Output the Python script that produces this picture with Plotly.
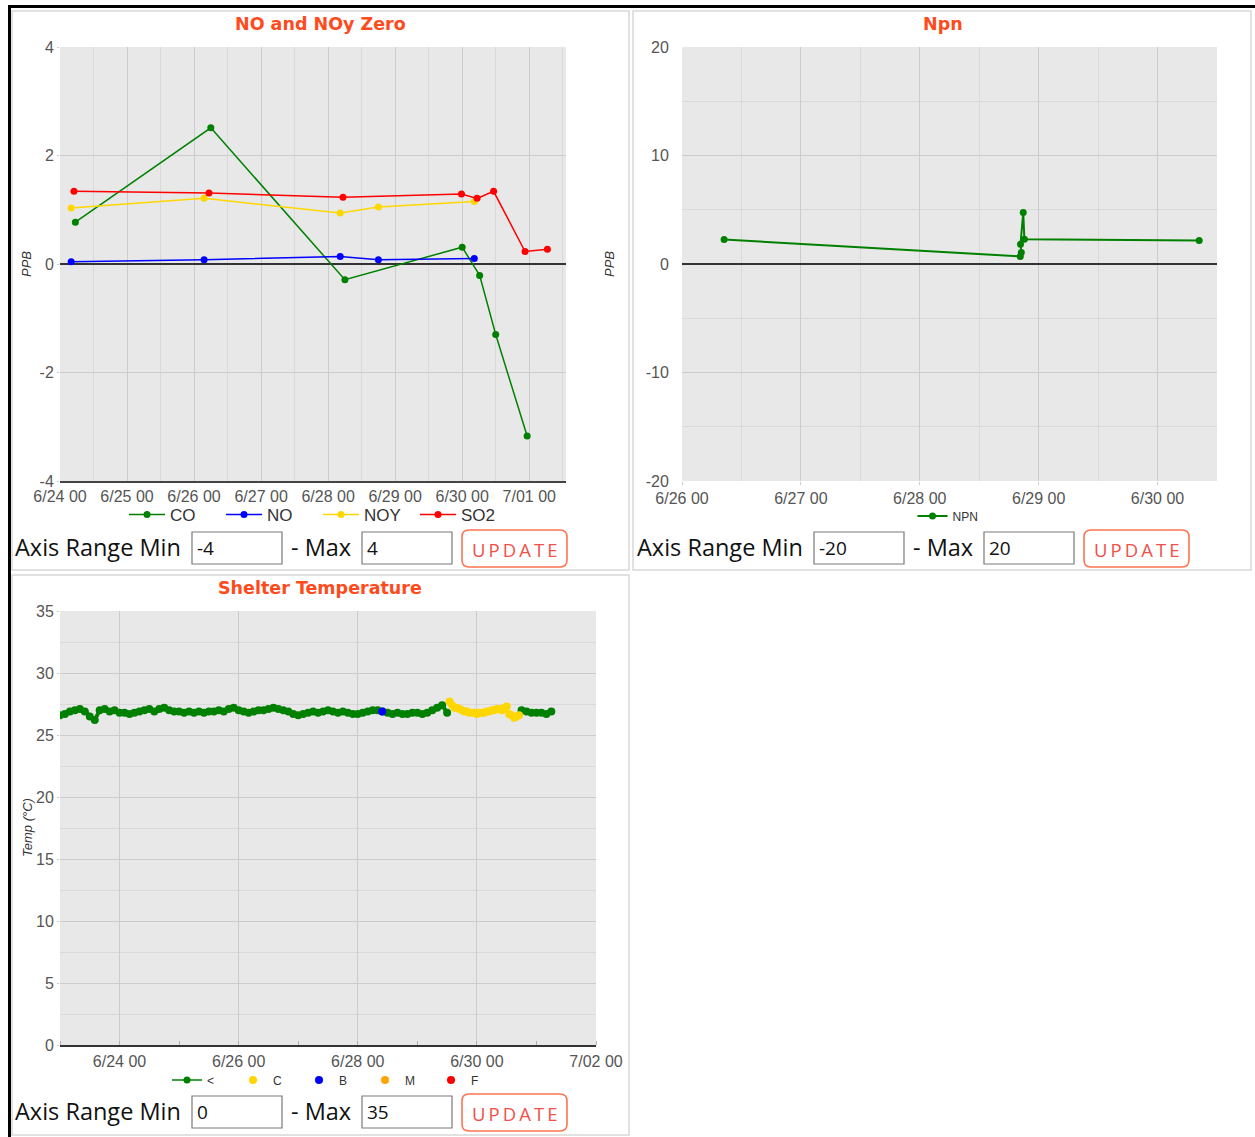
import pandas as pd
import plotly.graph_objects as go

W, H = 1255, 1137


def px(x):
    return x / W


def py(y):
    return 1 - y / H


# ---- NO and NOy Zero ----
co_time = ["2023-06-24 05:30", "2023-06-26 06:00", "2023-06-28 06:00", "2023-06-30 00:00",
           "2023-06-30 06:15", "2023-06-30 12:00", "2023-06-30 23:15"]
co_vals = [0.77, 2.51, -0.29, 0.31, -0.21, -1.30, -3.17]

no_time = ["2023-06-24 04:00", "2023-06-26 03:36", "2023-06-28 04:20", "2023-06-28 18:00",
           "2023-06-30 04:20"]
no_vals = [0.04, 0.08, 0.14, 0.08, 0.10]
noy_vals = [1.03, 1.21, 0.94, 1.05, 1.15]

so2_time = ["2023-06-24 05:00", "2023-06-26 05:20", "2023-06-28 05:20", "2023-06-29 23:45",
            "2023-06-30 05:20", "2023-06-30 11:15", "2023-06-30 22:30", "2023-07-01 06:30"]
so2_vals = [1.34, 1.31, 1.23, 1.29, 1.21, 1.34, 0.23, 0.27]

ppb_ticks = [-4, -2, 0, 2, 4]
ppb_labels = ["-4", "-2", "0", "2", "4"]

# ---- Npn ----
npn_time = ["2023-06-26 08:30", "2023-06-28 20:17", "2023-06-28 20:30", "2023-06-28 20:20",
            "2023-06-28 20:53", "2023-06-28 21:07", "2023-06-30 08:24"]
npn_vals = [2.26, 0.70, 1.05, 1.83, 4.74, 2.29, 2.17]

npn_ticks = [-20, -10, 0, 10, 20]
npn_labels = ["-20", "-10", "0", "10", "20"]

# ---- Shelter Temperature ----
# "<" flag, every 2 hours
temp_green_a = [
    26.6, 26.7, 26.9, 27.0, 27.1, 26.9, 26.5, 26.2, 27.0, 27.1, 26.9, 27.0,
    26.8, 26.8, 26.7, 26.8, 26.9, 27.0, 27.1, 26.9, 27.1, 27.2, 27.0, 26.9,
    26.9, 26.8, 26.9, 26.8, 26.9, 26.8, 26.9, 26.9, 27.0, 26.9, 27.1, 27.2,
    27.0, 26.9, 26.8, 26.9, 27.0, 27.0, 27.1, 27.2, 27.1, 27.0, 26.9, 26.7,
    26.6, 26.7, 26.8, 26.9, 26.8, 26.9, 27.0, 26.9, 26.8, 26.9, 26.8, 26.7,
    26.7, 26.8, 26.9, 27.0, 27.0, 26.9, 26.8, 26.7, 26.8, 26.7, 26.7, 26.8,
    26.8, 26.7, 26.8, 27.0, 27.2, 27.4, 26.8,
]
temp_green_b = [27.0, 26.9, 26.8, 26.8, 26.8, 26.7, 26.9]
# "C" flag, hourly
temp_yellow = [27.7, 27.4, 27.2, 27.2, 27.1, 27.0, 26.9, 26.9, 26.8, 26.8, 26.8, 26.7, 26.8, 26.8,
               26.8, 26.9, 26.9, 27.0, 27.0, 27.1, 27.1, 27.0, 27.2, 27.3, 26.7, 26.6, 26.4, 26.5, 26.6]
# "B" flag
temp_blue_time = ["2023-06-28 09:50"]
temp_blue = [26.9]

t_green_a = list(pd.date_range("2023-06-23 00:00", periods=len(temp_green_a), freq="2h"))
t_green_b = list(pd.date_range("2023-06-30 18:00", periods=len(temp_green_b), freq="2h"))
t_yellow = list(pd.date_range("2023-06-29 13:00", periods=len(temp_yellow), freq="1h"))

GREEN = "#008000"
BLUE = "#0000ff"
YELLOW = "#ffd700"
RED = "#ff0000"
ORANGE = "#ffa500"
TITLE_C = "#ff4a1c"
BTN_C = "#ff7350"
GRID = "#cccccc"
MINOR = "#d9d9d9"
TICK_FONT = dict(family="Liberation Sans, Arial", size=16, color="#555555")

fig = go.Figure()


def line_trace(x, y, name, color, xa, ya, legend, size=7, width=1.5, mode="lines+markers",
               showlegend=True):
    fig.add_trace(go.Scatter(
        x=x, y=y, name=name, mode=mode, xaxis=xa, yaxis=ya, legend=legend,
        line=dict(color=color, width=width),
        marker=dict(color=color, size=size),
        connectgaps=False, showlegend=showlegend,
    ))


line_trace(co_time, co_vals, "CO", GREEN, "x", "y", "legend")
line_trace(no_time, no_vals, "NO", BLUE, "x", "y", "legend")
line_trace(no_time, noy_vals, "NOY", YELLOW, "x", "y", "legend")
line_trace(so2_time, so2_vals, "SO2", RED, "x", "y", "legend")

line_trace(npn_time, npn_vals, "NPN", GREEN, "x2", "y3", "legend2", size=7, width=2)

# thick line keeps the dense series looking like one band; the legend entry uses a thin one
line_trace(t_green_a + [None] + t_green_b, temp_green_a + [None] + temp_green_b,
           "<", GREEN, "x3", "y4", "legend3", size=8, width=4, showlegend=False)
line_trace([None], [None], "<", GREEN, "x3", "y4", "legend3", size=7, width=1.5)
line_trace(t_yellow, temp_yellow, "C", YELLOW, "x3", "y4", "legend3", size=8, mode="markers")
line_trace(temp_blue_time, temp_blue, "B", BLUE, "x3", "y4", "legend3", size=8, mode="markers")
line_trace([None], [None], "M", ORANGE, "x3", "y4", "legend3", size=8, mode="markers")
line_trace([None], [None], "F", RED, "x3", "y4", "legend3", size=8, mode="markers")

DAY = 86400000

common_x = dict(type="date", tickformat="%-m/%d %H", showgrid=True, gridcolor=GRID, automargin=False,
                ticks="outside", ticklen=3, tickcolor=GRID, tickfont=TICK_FONT, zeroline=False)
common_y = dict(showgrid=True, gridcolor=GRID, ticks="outside", ticklen=2, tickcolor=GRID, automargin=False,
                tickfont=TICK_FONT, zeroline=True, zerolinecolor="#333333", zerolinewidth=1.5)

fig.update_layout(
    width=W, height=H,
    margin=dict(l=0, r=0, t=0, b=0, pad=0, autoexpand=False),
    paper_bgcolor="white", plot_bgcolor="#e8e8e8",
    xaxis=dict(common_x, domain=[px(60), px(566)], anchor="y",
               range=["2023-06-24 00:00", "2023-07-01 13:10"], tick0="2023-06-24", dtick=DAY,
               ticks="", ticklen=0,
               minor=dict(dtick=DAY / 2, showgrid=True, gridcolor=MINOR),
               showline=True, linecolor="#444444", linewidth=2),
    yaxis=dict(common_y, domain=[py(481), py(47)], anchor="x", range=[-4, 4],
               tickvals=ppb_ticks, ticktext=ppb_labels),
    yaxis2=dict(overlaying="y", side="right", anchor="x", range=[0, 50], dtick=10, automargin=False,
                showgrid=True, gridcolor=GRID, zeroline=False,
                minor=dict(dtick=5, showgrid=True, gridcolor=MINOR),
                ticks="outside", ticklen=5, tickcolor=GRID, tickfont=TICK_FONT),
    xaxis2=dict(common_x, domain=[px(682), px(1217)], anchor="y3",
                range=["2023-06-26 00:00", "2023-06-30 12:00"], tick0="2023-06-26", dtick=DAY,
                minor=dict(dtick=DAY / 2, showgrid=True, gridcolor=MINOR)),
    yaxis3=dict(common_y, domain=[py(481), py(47)], anchor="x2", range=[-20, 20],
                tickvals=npn_ticks, ticktext=npn_labels, ticklen=9, tickcolor="rgba(0,0,0,0)",
                minor=dict(dtick=5, showgrid=True, gridcolor=MINOR)),
    xaxis3=dict(common_x, domain=[px(60), px(596)], anchor="y4",
                range=["2023-06-23 00:00", "2023-07-02 00:00"], tick0="2023-06-24", dtick=2 * DAY,
                ticklen=1, tickcolor="rgba(0,0,0,0)",
                minor=dict(dtick=DAY, ticks="inside", ticklen=4, tickcolor="#b0b0b0", showgrid=False),
                showline=True, linecolor="#333333", linewidth=2),
    yaxis4=dict(common_y, domain=[py(1045), py(611)], anchor="x3", range=[0, 35], dtick=5,
                minor=dict(dtick=2.5, showgrid=True, gridcolor=MINOR)),
    legend=dict(orientation="h", x=px(318), y=py(515), xanchor="center", yanchor="middle",
                entrywidth=46, itemwidth=36,
                font=dict(family="Liberation Sans, Arial", size=17, color="#333333"),
                bgcolor="rgba(0,0,0,0)"),
    legend2=dict(orientation="h", x=px(948), y=py(516), xanchor="center", yanchor="middle",
                 font=dict(family="Liberation Sans, Arial", size=12, color="#333333"),
                 bgcolor="rgba(0,0,0,0)"),
    legend3=dict(orientation="h", x=px(332), y=py(1080), xanchor="center", yanchor="middle",
                 entrywidth=21, font=dict(family="Liberation Sans, Arial", size=12, color="#333333"),
                 bgcolor="rgba(0,0,0,0)"),
    showlegend=True,
)

shapes = []


def rect(x0, y0, x1, y1, color, width):
    shapes.append(dict(type="rect", xref="paper", yref="paper",
                       x0=px(x0), x1=px(x1), y0=py(y1), y1=py(y0),
                       line=dict(color=color, width=width), fillcolor="rgba(0,0,0,0)", layer="below"))


def rrect(x0, y0, x1, y1, r, color, width):
    pts = [("M", x0 + r, y0), ("L", x1 - r, y0), ("Q", x1, y0, x1, y0 + r), ("L", x1, y1 - r),
           ("Q", x1, y1, x1 - r, y1), ("L", x0 + r, y1), ("Q", x0, y1, x0, y1 - r),
           ("L", x0, y0 + r), ("Q", x0, y0, x0 + r, y0)]
    path = ""
    for p in pts:
        cmd, coords = p[0], p[1:]
        xy = []
        for i in range(0, len(coords), 2):
            xy.append(f"{px(coords[i]):.5f},{py(coords[i + 1]):.5f}")
        path += cmd + " " + " ".join(xy) + " "
    shapes.append(dict(type="path", xref="paper", yref="paper", path=path + "Z",
                       line=dict(color=color, width=width)))


# page frame and panel boxes
shapes.append(dict(type="line", xref="paper", yref="paper", x0=px(9), x1=1, y0=py(6.5), y1=py(6.5),
                   line=dict(color="black", width=3)))
shapes.append(dict(type="line", xref="paper", yref="paper", x0=px(9.5), x1=px(9.5), y0=0, y1=py(5),
                   line=dict(color="black", width=3)))
rect(12, 11, 629, 570, "#d8d8d8", 1.5)
rect(633, 11, 1251, 570, "#d8d8d8", 1.5)
rect(12, 575, 629, 1135, "#d8d8d8", 1.5)

annotations = []


def text(x, y, s, size, color="black", family="Open Sans", xanchor="left", bold=False, angle=0,
         italic=False):
    annotations.append(dict(x=px(x), y=py(y), xref="paper", yref="paper", text=s, showarrow=False,
                            xanchor=xanchor, yanchor="middle", textangle=angle,
                            font=dict(size=size, color=color, family=family,
                                      weight="bold" if bold else "normal",
                                      style="italic" if italic else "normal")))


def controls(x_label, y_mid, lo, hi):
    text(x_label - 2, y_mid, "Axis Range Min", 23.5, "#111111")
    rect(x_label + 177, y_mid - 15, x_label + 267, y_mid + 17, "#7a7a7a", 1.2)
    text(x_label + 180, y_mid + 1, lo, 19, "#111111")
    text(x_label + 274, y_mid, "- Max", 23.5, "#111111")
    rect(x_label + 347, y_mid - 15, x_label + 437, y_mid + 17, "#7a7a7a", 1.2)
    text(x_label + 350, y_mid + 1, hi, 19, "#111111")
    rrect(x_label + 447, y_mid - 17, x_label + 552, y_mid + 20, 7, BTN_C, 1.6)
    text(x_label + 499.5, y_mid + 2, "U\u2009P\u2009D\u2009A\u2009T\u2009E", 18.5, "#f2504a",
         xanchor="center")


text(320, 24, "NO and NOy Zero", 17.5, TITLE_C, "DejaVu Sans", "center", bold=True)
text(943, 24, "Npn", 17.5, TITLE_C, "DejaVu Sans", "center", bold=True)
text(320, 588, "Shelter Temperature", 17.5, TITLE_C, "DejaVu Sans", "center", bold=True)

text(27, 264, "PPB", 13, "#333333", "Liberation Sans, Arial", "center", angle=-90, italic=True)
text(610, 264, "PPB", 13, "#333333", "Liberation Sans, Arial", "center", angle=-90, italic=True)
text(27, 828, "Temp (°C)", 13, "#333333", "Liberation Sans, Arial", "center", angle=-90, italic=True)

controls(15, 547, "-4", "4")
controls(637, 547, "-20", "20")
controls(15, 1111, "0", "35")

fig.update_layout(shapes=shapes, annotations=annotations)

# drop the default body margin so the figure fills the window exactly
fig.write_html("out.html", config={"displayModeBar": False},
               post_script="document.body.style.margin='0';document.body.style.overflow='hidden';")
